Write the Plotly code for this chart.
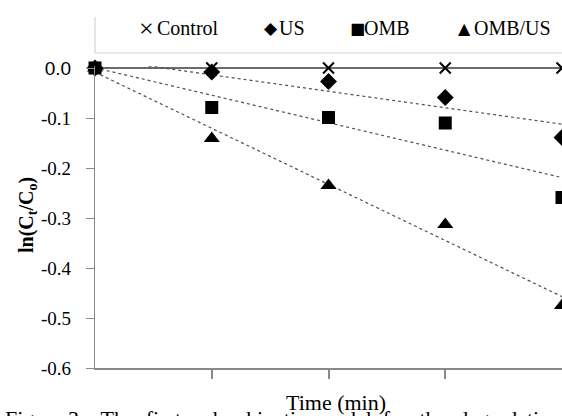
import numpy as np
import plotly.graph_objects as go

# ---- data ----
time_min = [0, 15, 30, 45, 60]
control = [0.0, 0.0, 0.0, 0.0, 0.0]
us = [0.0, -0.008, -0.027, -0.059, -0.139]
omb = [0.0, -0.079, -0.099, -0.110, -0.259]
omb_us = [0.0, -0.141, -0.235, -0.313, -0.475]
series_names = ["Control", "US", "OMB", "OMB/US"]
y_tickvals = [-0.6, -0.5, -0.4, -0.3, -0.2, -0.1, 0.0]
y_ticktext = ["-0.6", "-0.5", "-0.4", "-0.3", "-0.2", "-0.1", "0.0"]
x_tickvals = [15, 30, 45]

SERIF = "Liberation Serif"
AX = "#898989"

W, H = 562, 416
ML, MR, MT, MB = 95, 0, 66, 48
PW, PH = W - ML - MR, H - MT - MB


def px_x(p):
    return (p - ML) / PW


def px_y(p):
    return (H - MB - p) / PH


fig = go.Figure()

all_series = [control, us, omb, omb_us]
symbols = ["x-thin", "diamond", "square", "triangle-up"]
sizes = [11, 13, 13, 14]

# trendlines (linear fit of each series)
xs = np.array(time_min, dtype=float)
for i, (name, ys) in enumerate(zip(series_names, all_series)):
    k, b = np.polyfit(xs, np.array(ys, dtype=float), 1)
    xl = [xs.min(), xs.max()]
    yl = [b + k * xl[0], b + k * xl[1]]
    if i == 0:
        line = dict(color="#3a3a3a", width=1.5)
    else:
        line = dict(color="#505050", width=1.2, dash="dot")
    fig.add_trace(go.Scatter(x=xl, y=yl, mode="lines", line=line,
                             showlegend=False, hoverinfo="skip"))

for name, ys, sym, sz in zip(series_names, all_series, symbols, sizes):
    marker = dict(symbol=sym, size=sz, color="black", line=dict(width=0))
    if sym == "x-thin":
        marker["line"] = dict(color="black", width=2)
    fig.add_trace(go.Scatter(x=time_min, y=ys, mode="markers", name=name,
                             marker=marker, cliponaxis=False, showlegend=False))

ticktext = [t if t != "0.0" else '<span style="font-family:Liberation Sans">0.0</span>'
            for t in y_ticktext]

fig.update_layout(
    width=W, height=H,
    margin=dict(l=ML, r=MR, t=MT, b=MB, pad=0),
    paper_bgcolor="white", plot_bgcolor="white",
    showlegend=False,
    font=dict(family=SERIF, size=19, color="black"),
    xaxis=dict(range=[0, 60], showline=True, linecolor=AX, linewidth=1.5,
               ticks="outside", ticklen=9, tickcolor=AX, tickwidth=1.5,
               tickvals=x_tickvals, showticklabels=False,
               showgrid=False, zeroline=False),
    yaxis=dict(range=[-0.6, 0.004], showline=True, linecolor=AX, linewidth=1.3,
               ticks="outside", ticklen=8, tickcolor=AX, tickwidth=1.3,
               tickvals=y_tickvals, ticktext=ticktext,
               tickfont=dict(family=SERIF, size=19, color="black"),
               ticklabelstandoff=11,
               showgrid=False, zeroline=False),
)

# legend box (left and bottom edges)
fig.add_shape(type="line", xref="paper", yref="paper",
              x0=0, x1=0, y0=px_y(53), y1=px_y(17),
              line=dict(color="#d4d4d4", width=1.2))
fig.add_shape(type="line", xref="paper", yref="paper",
              x0=0, x1=1.0, y0=px_y(53), y1=px_y(53),
              line=dict(color="#d4d4d4", width=1.2))

legend_syms = [("×", 137, 26, SERIF), ("◆", 262, 17, "DejaVu Sans"),
               ("■", 348, 16, "DejaVu Sans"), ("▲", 456, 16, "DejaVu Sans")]
legend_labels = [("Control", 155), ("US", 277), ("OMB", 362), ("OMB/US", 472)]
for (sym, xp, fs, fam), (lab, xl) in zip(legend_syms, legend_labels):
    fig.add_annotation(xref="paper", yref="paper", x=px_x(xp), y=px_y(28),
                       xanchor="left", yanchor="middle", showarrow=False,
                       text=sym, font=dict(family=fam, size=fs, color="black"))
    fig.add_annotation(xref="paper", yref="paper", x=px_x(xl), y=px_y(28),
                       xanchor="left", yanchor="middle", showarrow=False,
                       text=lab, font=dict(family=SERIF, size=20, color="black"))

# axis titles
fig.add_annotation(xref="paper", yref="paper", x=px_x(27), y=px_y(215),
                   xanchor="center", yanchor="middle", showarrow=False, textangle=-90,
                   text="<b>ln(C<sub>t</sub>/C<sub>o</sub>)</b>",
                   font=dict(family=SERIF, size=20, color="black"))
fig.add_annotation(xref="paper", yref="paper", x=px_x(336), y=px_y(402),
                   xanchor="center", yanchor="middle", showarrow=False,
                   text="Time (min)",
                   font=dict(family=SERIF, size=22, color="black"))

# partially visible figure caption at the bottom edge
fig.add_annotation(xref="paper", yref="paper", x=px_x(3), y=px_y(418),
                   xanchor="left", yanchor="middle", showarrow=False,
                   text="Figure 3.   The  first-order  kinetic  model  for  the  degradation",
                   font=dict(family=SERIF, size=22, color="black"))

fig.write_html("out.html")
